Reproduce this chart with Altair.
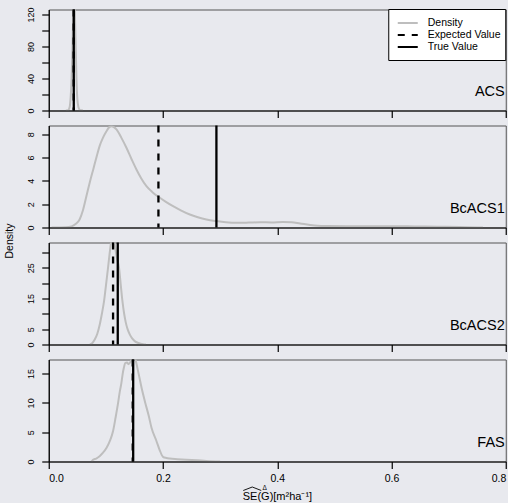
import altair as alt
import pandas as pd

FONT = "Liberation Sans"
BG = "#E8E9EE"

panels = ["ACS", "BcACS1", "BcACS2", "FAS"]
expected_values = [0.0437, 0.192, 0.1126, 0.1470]
true_values = [0.0438, 0.2935, 0.1208, 0.1478]

acs_x = [0.030, 0.034, 0.0365, 0.0385, 0.040, 0.0415, 0.0432, 0.0442, 0.0452,
         0.047, 0.0485, 0.050, 0.052, 0.054, 0.057, 0.060]
acs_y = [0, 0.5, 4, 18, 40, 75, 128, 140, 132, 85, 40, 15, 4, 1, 0.2, 0]

bc1_x = [0.005, 0.03, 0.040, 0.047, 0.054, 0.060, 0.066, 0.072, 0.078, 0.084,
         0.089, 0.095, 0.101, 0.106, 0.110, 0.114, 0.1185, 0.127, 0.136, 0.145,
         0.1535, 0.162, 0.171, 0.181, 0.192, 0.205, 0.2176, 0.232, 0.247, 0.261,
         0.276, 0.2935, 0.31, 0.33, 0.35, 0.37, 0.39, 0.41, 0.425, 0.44, 0.465,
         0.49, 0.52, 0.56, 0.60, 0.64, 0.68, 0.72, 0.75, 0.76]
bc1_y = [0, 0.02, 0.1, 0.3, 0.69, 1.5, 2.7, 3.9, 5.0, 6.1,
         6.97, 7.7, 8.25, 8.6, 8.68, 8.6, 8.4, 7.7, 6.83, 5.85,
         4.97, 4.2, 3.54, 3.05, 2.63, 2.2, 1.83, 1.45, 1.11, 0.88,
         0.69, 0.55, 0.45, 0.40, 0.42, 0.45, 0.43, 0.47, 0.46, 0.35, 0.18,
         0.12, 0.11, 0.10, 0.11, 0.09, 0.07, 0.04, 0.01, 0]

bc2_x = [0.072, 0.076, 0.0805, 0.085, 0.0893, 0.093, 0.0968, 0.100, 0.1038,
         0.1065, 0.1085, 0.111, 0.113, 0.1155, 0.119, 0.123, 0.126, 0.129,
         0.132, 0.1348, 0.138, 0.1418, 0.146, 0.1505, 0.157, 0.165, 0.17]
bc2_y = [0, 0.4, 1.6, 3.5, 6.5, 10, 14.1, 19, 25,
         29.5, 32.6, 35.5, 36, 32.6, 28.5, 25, 19.5, 14.1,
         10, 7.2, 5, 3.3, 2.0, 1.1, 0.5, 0.1, 0]

fas_x = [0.075, 0.0776, 0.083, 0.089, 0.095, 0.101, 0.107, 0.1126, 0.117,
         0.1214, 0.1245, 0.1272, 0.1295, 0.1313, 0.134, 0.137, 0.1395, 0.1425,
         0.146, 0.149, 0.152, 0.1555, 0.159, 0.162, 0.169, 0.175, 0.18, 0.1885,
         0.194, 0.2, 0.206, 0.212, 0.225, 0.241, 0.26, 0.276, 0.3]
fas_y = [0, 0.3, 0.5, 0.9, 1.5, 2.3, 3.5, 5.2, 7.5,
         10, 12, 13.4, 15, 15.9, 16.8, 16.9, 16.6, 16.9,
         17.6, 17.8, 17.3, 15.8, 14.2, 12.8, 10, 7.8, 5.7, 3.5,
         2.0, 0.8, 0.6, 0.5, 0.4, 0.3, 0.2, 0.1, 0]

dens_x = [acs_x, bc1_x, bc2_x, fas_x]
dens_y = [acs_y, bc1_y, bc2_y, fas_y]

y_max = [126.25, 8.74, 33.2, 17.4]
y_ticks = [[0, 20, 40, 60, 80, 100, 120], [0, 2, 4, 6, 8],
           [0, 5, 10, 15, 20, 25, 30], [0, 5, 10, 15]]
y_labels = [[0, 40, 80, 120], [0, 2, 4, 6, 8], [0, 5, 15, 25], [0, 5, 10, 15]]
x_ticks = [0.0, 0.2, 0.4, 0.6, 0.8]
legend_labels = ["Density", "Expected Value", "True Value"]
y_title = "Density"
x_title = "SE(G)[m²ha⁻¹]"

W = 457
heights = [101, 102, 102, 102]
GREY = "#BEBEBE"
DASH = [7, 7]


def one(val, name="v"):
    return pd.DataFrame({name: [val]})


def panel(i):
    h = heights[i]
    last = i == len(panels) - 1
    df = pd.DataFrame({"x": dens_x[i], "y": dens_y[i]})
    xaxis = alt.Axis(values=x_ticks, format=".1f", labels=last, title=None, grid=False,
                     domainColor="black", tickColor="black", tickSize=7, domainWidth=1.2,
                     tickWidth=1.2, labelFontSize=10.5, labelPadding=5, labelColor="black",
                     labelFont=FONT, zindex=1)
    shown = ",".join(str(v) for v in y_labels[i])
    yaxis = alt.Axis(values=y_ticks[i], labelExpr=f"indexof([{shown}], datum.value) >= 0 ? datum.label : ''",
                     title=None, grid=False, labelAngle=270, labelAlign="center",
                     labelBaseline="bottom", labelOverlap=False, domainColor="black",
                     tickColor="black", tickSize=7, domainWidth=1.2, tickWidth=1.2,
                     labelFontSize=9, labelPadding=6, labelColor="black", labelFont=FONT,
                     zindex=1)
    xs = alt.X("x:Q", scale=alt.Scale(domain=[0, 0.8], nice=False, zero=False), axis=xaxis)
    ys = alt.Y("y:Q", scale=alt.Scale(domain=[0, y_max[i]], nice=False), axis=yaxis)
    line = alt.Chart(df).mark_line(color=GREY, strokeWidth=2, clip=True,
                                   interpolate="monotone").encode(x=xs, y=ys)
    exp_rule = alt.Chart(one(expected_values[i])).mark_rule(
        color="black", strokeWidth=2.3, strokeDash=DASH).encode(x=alt.X("v:Q"))
    true_rule = alt.Chart(one(true_values[i])).mark_rule(
        color="black", strokeWidth=2.3).encode(x=alt.X("v:Q"))
    lab = alt.Chart(one(panels[i], "t")).mark_text(
        align="right", baseline="alphabetic", font=FONT, fontSize=14.5, color="black"
    ).encode(text="t:N", x=alt.value(W - 1), y=alt.value(h - 15))
    layers = [line, exp_rule, true_rule, lab]

    if i == 0:
        box = alt.Chart(one(0)).mark_rect(fill="white", stroke="black", strokeWidth=1).encode(
            x=alt.value(340), x2=alt.value(W), y=alt.value(0), y2=alt.value(51))
        layers.append(box)
        styles = [dict(color=GREY), dict(color="black", strokeDash=DASH), dict(color="black")]
        for k, (txt, st) in enumerate(zip(legend_labels, styles)):
            yy = 13.5 + 12 * k
            layers.append(alt.Chart(one(txt, "t")).mark_rule(strokeWidth=2, **st).encode(
                x=alt.value(349), x2=alt.value(369), y=alt.value(yy)))
            layers.append(alt.Chart(one(txt, "t")).mark_text(
                align="left", baseline="middle", font=FONT, fontSize=10.5, color="black"
            ).encode(text="t:N", x=alt.value(379), y=alt.value(yy)))
    if i == 2:
        layers.append(alt.Chart(one(y_title, "t")).mark_text(
            align="center", baseline="middle", angle=270, font=FONT, fontSize=10.5,
            color="black").encode(text="t:N", x=alt.value(-39), y=alt.value(-1.5)))
    if last:
        layers.append(alt.Chart(one(x_title, "t")).mark_text(
            align="left", baseline="alphabetic", font=FONT, fontSize=11, color="black"
        ).encode(text="t:N", x=alt.value(194), y=alt.value(h + 38)))
        layers.append(alt.Chart(one(0)).mark_rule(color="black", strokeWidth=0.9).encode(
            x=alt.value(194.5), x2=alt.value(203.5), y=alt.value(h + 29), y2=alt.value(h + 25.5)))
        layers.append(alt.Chart(one(0)).mark_rule(color="black", strokeWidth=0.9).encode(
            x=alt.value(203.5), x2=alt.value(212.5), y=alt.value(h + 25.5), y2=alt.value(h + 29)))
        layers.append(alt.Chart(one("Δ", "t")).mark_text(
            align="center", baseline="alphabetic", font=FONT, fontSize=6.5, color="black"
        ).encode(text="t:N", x=alt.value(216), y=alt.value(h + 28.5)))

    return alt.layer(*layers).properties(width=W, height=h)


chart = alt.vconcat(*[panel(i) for i in range(4)], spacing=15, bounds="flush").properties(
    background=BG, padding={"left": 3.75, "top": 5.5, "right": 0, "bottom": 0}
).configure_view(stroke="#555555", strokeWidth=1)

chart.save("out.html", embed_options={"renderer": "svg", "actions": False})
